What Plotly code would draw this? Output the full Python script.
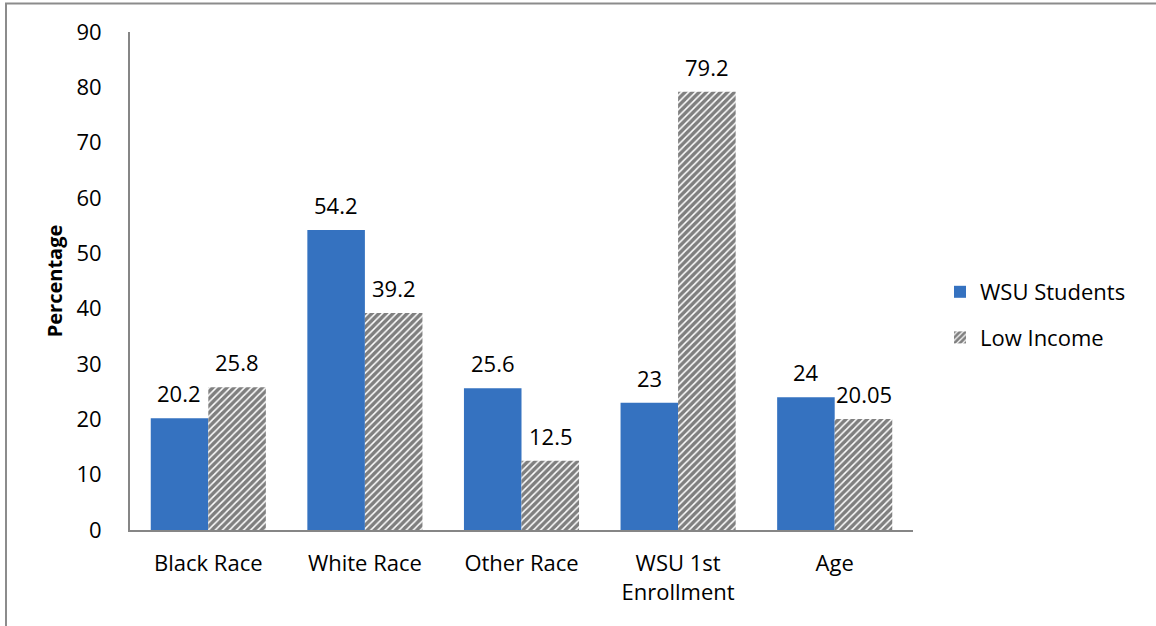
import plotly.graph_objects as go

categories = ["Black Race", "White Race", "Other Race", "WSU 1st<br>Enrollment", "Age"]
wsu_students = [20.2, 54.2, 25.6, 23, 24]
low_income = [25.8, 39.2, 12.5, 79.2, 20.05]
wsu_labels = ["20.2", "54.2", "25.6", "23", "24"]
low_labels = ["25.8", "39.2", "12.5", "79.2", "20.05"]
y_ticks = [0, 10, 20, 30, 40, 50, 60, 70, 80, 90]

FONT = "Open Sans"
FS = 22

fig = go.Figure()
fig.add_trace(go.Bar(
    name="WSU Students", x=categories, y=wsu_students,
    marker=dict(color="#3572C0", line=dict(width=0)),
    offsetgroup="a", legendgroup="a",
))
fig.add_trace(go.Bar(
    name="Low Income", x=categories, y=low_income,
    marker=dict(color="white", line=dict(width=0),
                pattern=dict(shape="/", fgcolor="black", bgcolor="white",
                             size=5, solidity=0.7)),
    offsetgroup="b", legendgroup="b",
))

# data labels
for c, v, t in zip(categories, wsu_students, wsu_labels):
    fig.add_annotation(x=c, y=v, text=t, showarrow=False, xshift=-29,
                       yanchor="bottom", yshift=8,
                       font=dict(family=FONT, size=FS, color="black"))
for c, v, t in zip(categories, low_income, low_labels):
    fig.add_annotation(x=c, y=v, text=t, showarrow=False, xshift=29,
                       yanchor="bottom", yshift=8,
                       font=dict(family=FONT, size=FS, color="black"))

# outer chart border (cropped at right and bottom)
fig.add_shape(type="rect", xref="paper", yref="paper",
              x0=-124 / 783, x1=1.5, y0=-1.0, y1=1 + 28.5 / 498,
              line=dict(color="#8C8C8C", width=2), fillcolor="rgba(0,0,0,0)",
              layer="below")

fig.update_layout(
    width=1156, height=626,
    margin=dict(l=130, r=243, t=32, b=96),
    paper_bgcolor="white", plot_bgcolor="white",
    barmode="group", bargap=0.265, bargroupgap=0,
    font=dict(family=FONT, size=FS, color="black"),
    showlegend=True,
    legend=dict(x=(940 - 130) / 783, y=(530 - 315) / 498, xanchor="left", yanchor="middle",
                font=dict(family=FONT, size=FS, color="black"),
                bgcolor="rgba(0,0,0,0)", tracegroupgap=14, itemwidth=30),
    xaxis=dict(showline=True, linecolor="#868686", linewidth=2,
               ticks="", showgrid=False, tickfont=dict(size=FS),
               zeroline=False, ticklabelstandoff=13),
    yaxis=dict(range=[0, 90], tickvals=y_ticks, showline=True,
               linecolor="#868686", linewidth=2, ticks="", showgrid=False,
               zeroline=False, tickfont=dict(size=FS), ticklabelstandoff=22,
               title=dict(text="<b>Percentage</b>", font=dict(size=20),
                          standoff=8)),
)

fig.write_html("out.html")
